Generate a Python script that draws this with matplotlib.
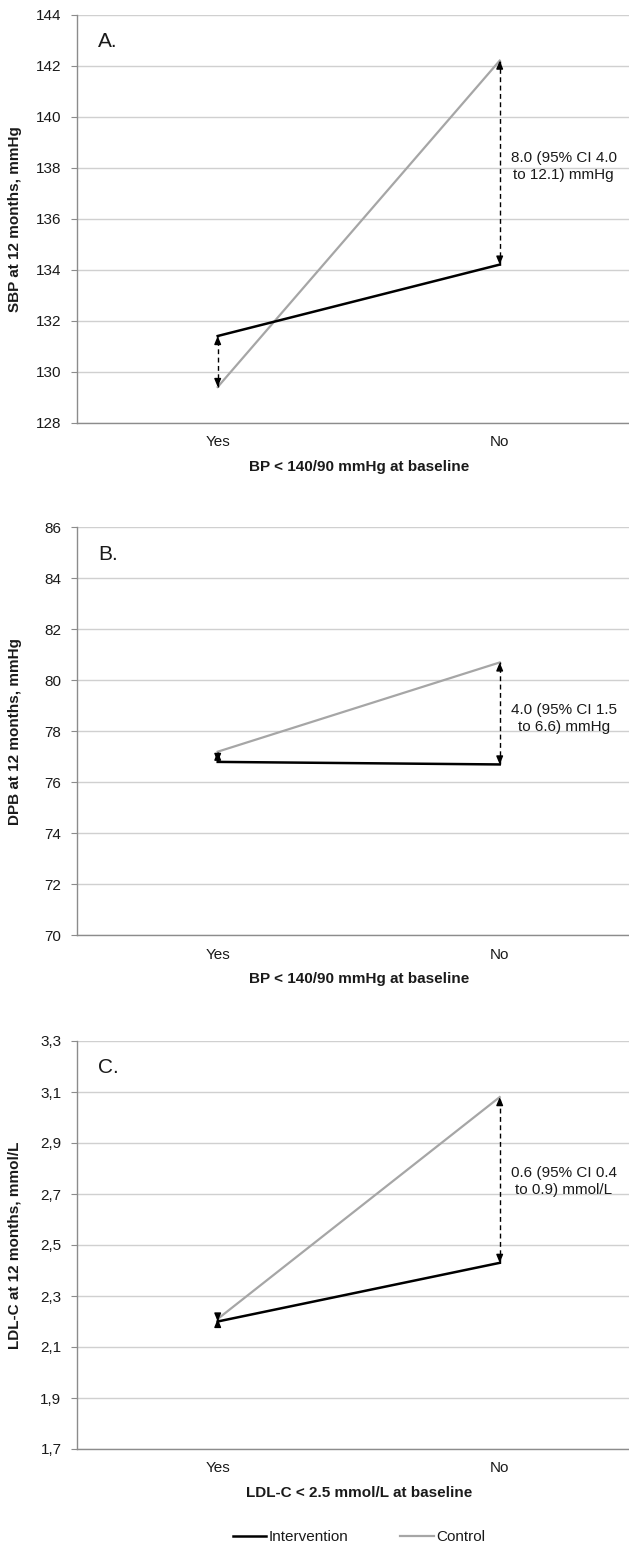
import numpy as np
import matplotlib
matplotlib.use('Agg')
import matplotlib.pyplot as plt
from matplotlib.ticker import FuncFormatter

plt.rcParams['font.family'] = ['Liberation Sans', 'DejaVu Sans']

# data
categories = ['Yes', 'No']
sbp_intervention = [131.4, 134.2]
sbp_control = [129.4, 142.2]
dbp_intervention = [76.8, 76.7]
dbp_control = [77.2, 80.7]
ldl_intervention = [2.20, 2.43]
ldl_control = [2.21, 3.08]

panel_labels = ['A.', 'B.', 'C.']
ylabels = ['SBP at 12 months, mmHg', 'DPB at 12 months, mmHg', 'LDL-C at 12 months, mmol/L']
xlabels = ['BP < 140/90 mmHg at baseline', 'BP < 140/90 mmHg at baseline',
           'LDL-C < 2.5 mmol/L at baseline']
diff_texts = ['8.0 (95% CI 4.0\nto 12.1) mmHg', '4.0 (95% CI 1.5\nto 6.6) mmHg',
              '0.6 (95% CI 0.4\nto 0.9) mmol/L']
diff_text_y = [138.05, 78.5, 2.75]
yranges = [(128, 144, 2), (70, 86, 2), (1.7, 3.3, 0.2)]

W, H = 629, 1546
fig = plt.figure(figsize=(W / 100, H / 100), dpi=100)

GRID = '#d0d0d0'
SPINE = '#8c8c8c'
CTRL = '#a6a6a6'

left_px, width_px, height_px = 76.7, 564, 408
tops_px = [14.7, 527.3, 1041]


def gap_arrow(ax, x, y1, y2):
    lo, hi = min(y1, y2), max(y1, y2)
    ax.plot([x, x], [lo, hi], color='k', lw=1, ls=(0, (3.5, 2.5)), zorder=4)
    head = dict(arrowstyle='-|>,head_length=0.6,head_width=0.25', color='k', lw=1,
                shrinkA=0, shrinkB=0, mutation_scale=8)
    ax.annotate('', xy=(x, hi), xytext=(0, -5), textcoords='offset points',
                arrowprops=head, zorder=5)
    ax.annotate('', xy=(x, lo), xytext=(0, 5), textcoords='offset points',
                arrowprops=head, zorder=5)


series = [(sbp_intervention, sbp_control), (dbp_intervention, dbp_control),
          (ldl_intervention, ldl_control)]
x = np.arange(len(categories))

for i, (inter, ctrl) in enumerate(series):
    top = tops_px[i]
    ax = fig.add_axes([left_px / W, (H - top - height_px) / H, width_px / W, height_px / H])
    lo, hi, step = yranges[i]
    ax.set_ylim(lo, hi)
    ax.set_xlim(-0.5, 1.5)
    ticks = np.arange(lo, hi + step / 2, step)
    ax.set_yticks(ticks)
    if i == 2:
        ax.yaxis.set_major_formatter(FuncFormatter(lambda v, p: f'{v:.1f}'.replace('.', ',')))
    else:
        ax.yaxis.set_major_formatter(FuncFormatter(lambda v, p: f'{v:.0f}'))
    ax.grid(axis='y', color=GRID, lw=1)
    ax.set_axisbelow(True)
    for s in ['top', 'right']:
        ax.spines[s].set_visible(False)
    for s in ['left', 'bottom']:
        ax.spines[s].set_color(SPINE)
        ax.spines[s].set_linewidth(1)
    ax.tick_params(axis='y', length=4, color=SPINE, pad=7, labelsize=11, labelcolor='#1a1a1a')
    ax.tick_params(axis='x', length=0, pad=9, labelsize=11, labelcolor='#1a1a1a')
    ax.set_xticks(x)
    ax.set_xticklabels(categories)

    ax.plot(x, ctrl, color=CTRL, lw=1.6, label='Control', zorder=3)
    ax.plot(x, inter, color='k', lw=1.8, label='Intervention', zorder=3)

    for j in range(len(categories)):
        gap_arrow(ax, x[j], inter[j], ctrl[j])

    ax.text(1.227, diff_text_y[i], diff_texts[i], ha='center', va='center',
            fontsize=11, color='#1a1a1a', linespacing=1.3)
    ax.text(0.0378, 0.934, panel_labels[i], transform=ax.transAxes, ha='left', va='center',
            fontsize=15, color='#1a1a1a')

    ax.set_ylabel(ylabels[i], fontsize=11, fontweight='bold', color='#1a1a1a')
    ax.yaxis.set_label_coords(-(left_px - 22) / width_px, 0.5)
    ax.set_xlabel(xlabels[i], fontsize=11, fontweight='bold', color='#1a1a1a')
    ax.xaxis.set_label_coords(0.5, -44 / height_px)
    ax.xaxis.label.set_va('center')

handles, labels = ax.get_legend_handles_labels()
fig.legend([handles[1], handles[0]], [labels[1], labels[0]], loc='center',
           bbox_to_anchor=(359 / W, (H - 1537) / H), ncol=2, frameon=False,
           fontsize=11, handlelength=2.2, handletextpad=0.15, columnspacing=3.4,
           borderpad=0, borderaxespad=0, labelcolor='#1a1a1a')

fig.savefig('out.png', dpi=100)
